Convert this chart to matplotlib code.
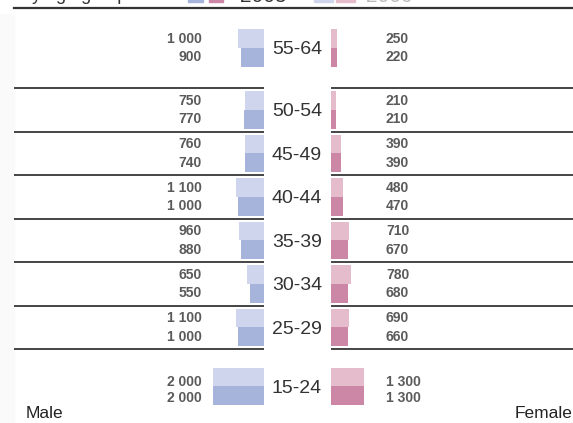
import numpy as np
import matplotlib
matplotlib.use("Agg")
import matplotlib.pyplot as plt
from matplotlib.lines import Line2D
from matplotlib.patches import Rectangle

plt.rcParams['font.family'] = ['Liberation Sans', 'DejaVu Sans']

# data (top to bottom)
ages = ['55-64', '50-54', '45-49', '40-44', '35-39', '30-34', '25-29', '15-24']
male_2000 = [1000, 750, 760, 1100, 960, 650, 1100, 2000]
male_2005 = [900, 770, 740, 1000, 880, 550, 1000, 2000]
female_2000 = [250, 210, 390, 480, 710, 780, 690, 1300]
female_2005 = [220, 210, 390, 470, 670, 680, 660, 1300]
years = ['2005', '2000']

c_m_old, c_m_new = '#cfd5ec', '#a6b4dc'
c_f_old, c_f_new = '#e5bccb', '#cc86a6'
lab_col = '#5a5a5a'

W, H = 573, 423
fig = plt.figure(figsize=(W / 100, H / 100), dpi=100)

# faint strip on the left edge
fig.add_artist(Rectangle((0, 0), 14 / W, 1 - 14 / H, color='#fafafa',
                         transform=fig.transFigure, zorder=0))

# row positions, with extra room for the first and last group
pos = np.arange(len(ages), dtype=float)
pos[1:] += 0.425
pos[-1] += 0.356
ytop = -1.103
ybot = ytop + H / 43.5
bh = 0.43
units_per_px = 39

ax_m = fig.add_axes([14 / W, 0, 250 / W, 1])
ax_f = fig.add_axes([331 / W, 0, 242 / W, 1])
ax_m.set_xlim(250 * units_per_px, 0)
ax_f.set_xlim(0, 242 * units_per_px)
for ax in (ax_m, ax_f):
    ax.set_ylim(ybot, ytop)
    ax.axis('off')

ax_m.barh(pos - bh / 2, male_2000, height=bh, color=c_m_old)
ax_m.barh(pos + bh / 2, male_2005, height=bh, color=c_m_new)
ax_f.barh(pos - bh / 2, female_2000, height=bh, color=c_f_old)
ax_f.barh(pos + bh / 2, female_2005, height=bh, color=c_f_new)

def fmt(v):
    return f'{v:,}'.replace(',', ' ')

for i, age in enumerate(ages):
    # last group has its labels pulled a bit closer together
    d = bh / 2 if i < len(ages) - 1 else 0.18
    shift = 0 if i < len(ages) - 1 else 0.08
    for dy, mv, fv in ((-d, male_2000[i], female_2000[i]),
                       (d, male_2005[i], female_2005[i])):
        y = pos[i] + dy + shift
        ax_m.annotate(fmt(mv), (0, y), xytext=(-62, 0), textcoords='offset pixels',
                      ha='right', va='center', fontsize=10, fontweight='bold', color=lab_col)
        ax_f.annotate(fmt(fv), (0, y), xytext=(55, 0), textcoords='offset pixels',
                      ha='left', va='center', fontsize=10, fontweight='bold', color=lab_col)
    ax_m.annotate(age, (0, pos[i]), xytext=(33, -2), textcoords='offset pixels',
                  ha='center', va='center', fontsize=14, color='#333333',
                  annotation_clip=False)

# separators
seps = [pos[1] - 0.5] + [p + 0.5 for p in pos[1:-1]]
for s in seps:
    ax_m.axhline(s, color='#444444', lw=1.4)
    ax_f.axhline(s, color='#444444', lw=1.4)

# top rule
fig.add_artist(Line2D([14 / W, 1], [1 - 8 / H, 1 - 8 / H], color='#333333', lw=1.6))

# title and legend, mostly cut off by the top edge
fig.text(22 / W, 1 + 0.5 / H, 'by age group', fontsize=13, color='#333333',
         ha='left', va='baseline')
legend_boxes = [(188, 15, c_m_new), (209, 14, c_f_new), (314, 19, c_m_old), (336, 19, c_f_old)]
for x0, w, col in legend_boxes:
    fig.add_artist(Rectangle((x0 / W, 1 - 2 / H), w / W, 15 / H, color=col,
                             transform=fig.transFigure))
fig.text(240 / W, 1 - 2 / H, years[0], fontsize=15, color='#333333', va='baseline')
fig.text(366 / W, 1 - 2 / H, years[1], fontsize=15, color='#bbbbbb', va='baseline')

fig.text(26 / W, 1 - 418 / H, 'Male', fontsize=12.5, color='#222222', va='baseline')
fig.text(1, 1 - 418 / H, 'Female', fontsize=12.5, color='#222222', va='baseline', ha='right')

fig.savefig('out.png', dpi=100)
